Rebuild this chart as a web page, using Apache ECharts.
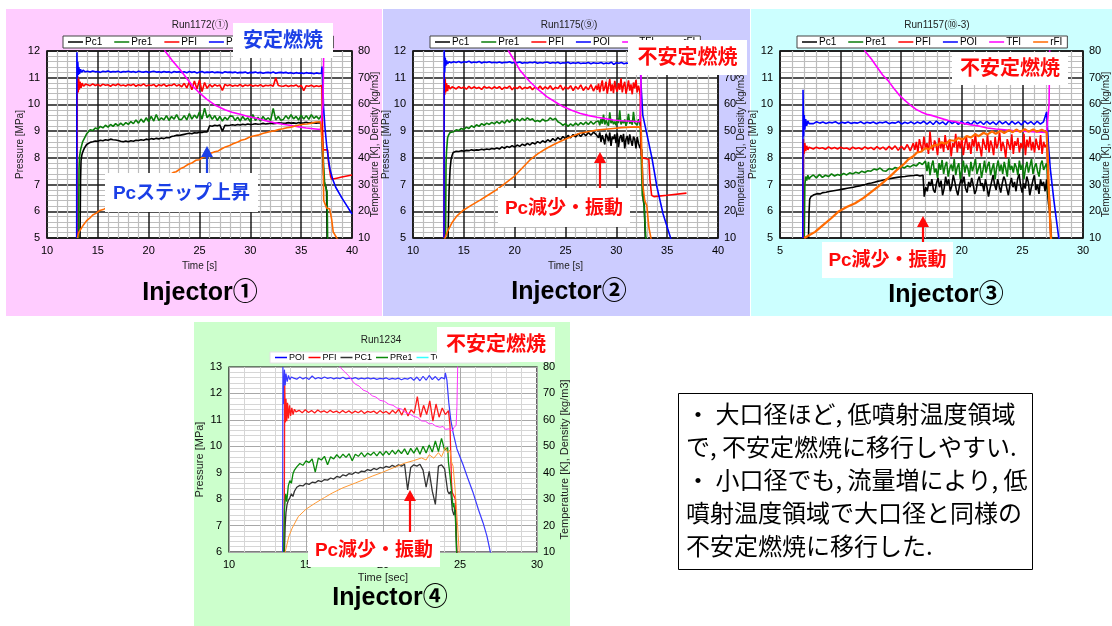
<!DOCTYPE html>
<html>
<head>
<meta charset="utf-8">
<script src="https://cdn.jsdelivr.net/npm/echarts@6/dist/echarts.min.js"></script>
<style>
html,body{margin:0;padding:0;background:#fff;}
#chart{width:1112px;height:626px;}
</style>
</head>
<body>
<div id="chart"></div>
<script>
// ---------- Run1172 (Injector 1) : time [s] vs pressure [MPa] / temperature, density ----------
const r1172_span = [14.0, 37.0];
const r1172_Pc1_head = [[13.25,5],[13.3,7.2],[13.35,7.9],[13.42,8.1],[13.5,8.2],[13.6,8.3],[13.7,8.38],[13.8,8.45],[13.9,8.5]];
const r1172_Pc1_body = [8.55,8.58,8.6,8.63,8.62,8.66,8.64,8.68,8.66,8.7,8.68,8.67,8.65,8.62,8.6,8.63,8.6,
  8.64,8.62,8.66,8.65,8.68,8.66,8.7,8.68,8.72,8.7,8.73,8.71,8.74,8.72,8.76,8.75,8.8,8.82,8.85,8.84,
  8.86,8.88,8.9,8.92,8.9,8.94,8.93,8.96,8.95,8.98,8.97,9.2,9.18,9.22,9.2,9.23,9.0,9.22,9.21,9.22,
  9.24,9.22,9.25,9.23,9.26,9.24,9.27,9.25,9.26,9.28,9.26,9.27,9.29,9.27,9.28,9.3,9.28,9.29,9.31,9.3,
  9.29,9.3,9.32,9.3,9.31,9.29,9.32,9.3,9.31,9.33,9.3,9.32,9.31,9.3,9.32,9.3];
const r1172_Pc1_tail = [[37.05,9.0],[37.1,8.2],[37.2,7.4],[37.3,7.0],[37.45,6.9],[37.5,6.7],[37.55,5],[37.56,4.9]];

const r1172_Pre1_head = [[13.1,5],[13.15,7.6],[13.2,8.05],[13.3,8.3],[13.4,8.45],[13.5,8.6],[13.6,8.55],[13.7,8.75],[13.8,8.7],[13.9,8.9]];
const r1172_Pre1_body = [8.95,9.05,9.02,9.12,9.08,9.18,9.12,9.22,9.15,9.25,9.18,9.28,9.2,9.3,9.22,9.32,9.25,
  9.36,9.28,9.42,9.3,9.45,9.33,9.5,9.36,9.55,9.38,9.62,9.4,9.5,9.42,9.58,9.4,9.55,9.45,9.62,9.43,
  9.44,9.58,9.42,9.66,9.45,9.6,9.48,9.72,9.45,9.86,9.5,9.62,9.44,9.58,9.4,9.55,9.38,9.52,9.42,9.57,
  9.56,9.4,9.52,9.38,9.55,9.42,9.5,9.36,9.62,9.4,9.52,9.38,9.55,9.42,9.5,9.4,9.85,9.42,9.55,9.41,
  9.44,9.58,9.45,9.62,9.46,9.55,9.42,9.6,9.45,9.58,9.44,9.62,9.48,9.56,9.45,9.6];
const r1172_Pre1_tail = [[37.05,9.3],[37.1,8.6],[37.2,7.8],[37.3,7.1],[37.45,6.85],[37.55,6.75],[37.6,5],[37.61,4.9]];

const r1172_PFI_head = [[12.95,5],[12.97,10.35],[13.02,11.05],[13.07,10.45],[13.12,10.95],[13.18,10.55],[13.25,10.85],[13.35,10.62],[13.45,10.8],[13.6,10.68],[13.8,10.76]];
const r1172_PFI_body = [10.74,10.7,10.77,10.71,10.75,10.69,10.76,10.72,10.74,10.68,10.75,10.71,10.77,10.7,10.73,10.69,10.75,
  10.71,10.76,10.68,10.74,10.7,10.77,10.69,10.73,10.71,10.75,10.67,10.74,10.7,10.76,10.68,10.73,10.71,10.77,10.69,10.74,
  10.66,10.79,10.62,10.84,10.55,10.88,10.58,10.92,10.48,10.82,10.6,10.75,10.66,10.74,10.69,10.73,10.52,10.75,10.7,10.74,
  10.68,10.72,10.69,10.75,10.67,10.73,10.7,10.74,10.68,10.72,10.69,10.74,10.67,10.72,10.7,10.73,10.68,11.0,10.71,10.69,
  10.68,10.72,10.67,10.71,10.69,10.73,10.66,10.71,10.52,10.7,10.68,10.72,10.66,10.7,10.67,10.71];
const r1172_PFI_tail = [[37.05,10.6],[37.1,9.2],[37.15,8.3],[37.6,8.3],[37.7,7.8],[37.9,7.3],[38.0,7.2],[38.5,7.24],[39,7.28],[39.5,7.32],[40,7.36]];

const r1172_POI_head = [[12.92,5],[12.94,11.95],[12.98,11.0],[13.03,11.6],[13.08,11.1],[13.13,11.4],[13.2,11.15],[13.3,11.32],[13.4,11.2],[13.55,11.28],[13.75,11.22]];
const r1172_POI_body = [11.24,11.21,11.25,11.22,11.23,11.2,11.24,11.22,11.25,11.21,11.23,11.22,11.24,11.2,11.23,11.22,11.24,
  11.21,11.23,11.2,11.24,11.22,11.21,11.23,11.2,11.22,11.24,11.21,11.22,11.2,11.23,11.21,11.22,11.19,11.23,11.21,11.22,
  11.2,11.22,11.19,11.23,11.2,11.22,11.18,11.21,11.23,11.19,11.21,11.2,11.22,11.19,11.21,11.2,11.18,11.22,11.2,11.21,
  11.19,11.21,11.18,11.2,11.19,11.21,11.17,11.2,11.19,11.21,11.18,11.2,11.17,11.19,11.2,11.18,11.21,11.17,11.19,11.2,
  11.18,11.2,11.17,11.19,11.16,11.19,11.17,11.18,11.16,11.19,11.17,11.18,11.15,11.18,11.16,11.17];
const r1172_POI_tail = [[37.05,11.42],[37.12,10.9],[37.2,9.9],[37.35,9.1],[37.5,8.5],[37.7,7.9],[37.85,7.55],[38.1,7.2],[38.4,6.9],[39.0,6.5],[39.5,6.2],[40,5.9]];

const r1172_TFI = [[21,88],[21.6,80],[22.3,76.5],[23.1,73],[23.7,70],[24.3,67],[25.0,64.3],[25.7,62],[26.5,59.8],[27.5,58],[28.2,57.1],[29,56.3],
  [29.8,55.5],[30.6,54.8],[31.5,53.9],[32.3,53.2],[33.2,52.6],[34,52.1],[34.8,51.6],[35.5,51.2],[36.2,50.9],[36.9,50.6],[37.05,50.5],[37.15,60],[37.2,75],[37.25,90]];
const r1172_rFI = [[13.0,10],[13.1,11.8],[13.3,13.2],[13.6,15],[13.9,16.5],[14.2,17.4],[14.5,18.6],[14.85,19.3],[15.2,20.3],[15.6,20.8],[16,21.6],[17,23.5],
  [18,25.8],[19,28],[20,30],[21,31.8],[22,33.4],[22.4,34.5],[22.7,34.8],[23.1,35.9],[23.5,36.6],[23.9,37.6],[24.3,38.2],[24.65,39.1],[25,39.3],[25.35,40.3],
  [25.7,40.6],[26.1,41.7],[26.5,42.3],[26.85,42.6],[27.2,43.4],[27.55,44.1],[27.9,44.5],[28.3,45.3],[28.7,45.8],[29.1,46.6],[29.5,47],[29.9,47.7],[30.3,48.2],
  [30.75,48.5],[31.2,49.1],[31.6,49.5],[32,49.9],[32.4,50.1],[32.8,50.6],[33.2,50.9],[33.6,51.3],[34,51.5],[34.4,51.9],[34.8,52.3],[35.2,52.6],[35.6,52.7],
  [36,53],[36.45,53.4],[36.9,53.5],[37.05,53.4],[37.15,42],[37.22,24],[37.5,21.2],[37.8,20.9],[38.0,17],[38.15,12.3],[38.5,10],[38.7,9]];

// ---------- Run1175 (Injector 2) ----------
const r1175_span = [14.0, 28.0];
const r1175_lateSpan = [28.125, 32.3];
const r1175_Pc1_head = [[13.45,5],[13.55,6.8],[13.65,7.6],[13.75,7.95],[13.85,8.1],[13.95,8.2]];
const r1175_Pc1_body = [8.22,8.25,8.24,8.27,8.25,8.28,8.27,8.3,8.28,8.3,8.29,8.32,8.3,8.33,8.31,8.35,8.33,
  8.37,8.33,8.41,8.36,8.43,8.39,8.46,8.4,8.48,8.43,8.51,8.46,8.54,8.48,8.57,8.52,8.61,8.55,8.64,8.58,
  8.68,8.61,8.72,8.64,8.76,8.68,8.8,8.71,8.84,8.75,8.87,8.78,8.9,8.8,8.92,8.83,8.95,8.85,8.96,8.88];
const r1175_Pc1_late = [8.9,8.75,8.95,8.6,8.85,8.7,8.5,8.9,8.8,8.62,8.95,8.45,8.8,8.7,8.88,8.55,8.92,8.4,8.75,8.85,
  8.6,8.9,8.35,8.7,8.82,8.5,8.88,8.65,8.45,8.8,8.7,8.35,8.78,8.55,8.4];
const r1175_Pc1_tail = [[32.35,8.35],[32.5,8.3],[32.65,6.4],[32.75,6.2],[32.85,5],[32.9,4.9]];

const r1175_Pre1_head = [[13.2,5],[13.25,7.8],[13.3,8.25],[13.4,8.75],[13.5,8.85],[13.65,8.95],[13.8,9.0]];
const r1175_Pre1_body = [8.98,9.05,9.02,9.1,9.06,9.15,9.1,9.2,9.14,9.24,9.18,9.28,9.22,9.3,9.25,9.33,9.27,
  9.36,9.28,9.38,9.3,9.42,9.33,9.44,9.36,9.46,9.38,9.48,9.4,9.5,9.42,9.46,9.36,9.4,9.35,9.45,9.38,
  9.4,9.5,9.42,9.48,9.35,9.3,9.22,9.28,9.18,9.27,9.2,9.3,9.22,9.32,9.24,9.34,9.25,9.36,9.26,9.35];
const r1175_Pre1_late = [9.3,9.38,9.22,9.45,9.28,9.62,9.25,9.4,9.33,9.2,9.7,9.3,9.42,9.26,9.36,9.22,9.48,9.3,9.78,9.25,
  9.38,9.3,9.44,9.2,9.35,9.65,9.28,9.4,9.24,9.72,9.32,9.38,9.22,9.45,9.3];
const r1175_Pre1_tail = [[32.35,9.2],[32.45,8.0],[32.55,6.6],[32.7,6.4],[32.9,5],[33,4.9]];

const r1175_PFI_head = [[13.05,5],[13.08,11.2],[13.12,10.35],[13.17,10.95],[13.22,10.45],[13.3,10.8],[13.4,10.5],[13.5,10.72],[13.65,10.58],[13.85,10.66]];
const r1175_PFI_body = [10.64,10.58,10.67,10.6,10.65,10.57,10.68,10.59,10.66,10.6,10.64,10.56,10.67,10.61,10.65,10.58,10.66,
  10.6,10.67,10.56,10.64,10.61,10.69,10.55,10.65,10.59,10.68,10.57,10.64,10.6,10.67,10.55,10.65,10.58,10.69,10.56,10.66,
  10.58,10.7,10.55,10.64,10.6,10.72,10.54,10.66,10.58,10.7,10.52,10.67,10.57,10.73,10.52,10.66,10.55,10.74,10.5,10.7];
const r1175_PFI_late = [10.55,10.78,10.45,10.7,10.9,10.5,10.62,10.85,10.4,10.68,10.95,10.5,10.75,10.42,10.88,10.6,10.48,10.8,10.55,10.98,
  10.45,10.7,10.85,10.4,10.62,10.9,10.52,10.75,10.38,10.82,10.6,10.92,10.45,10.7,10.5];
const r1175_PFI_tail = [[32.35,10.3],[32.45,8.1],[32.6,8.0],[33.2,7.95],[33.3,7.2],[33.47,6.6],[33.7,6.55],[35,6.6],[36.9,6.68]];

const r1175_POI_head = [[13.05,5],[13.07,12.05],[13.12,11.2],[13.17,11.75],[13.23,11.45],[13.3,11.65],[13.4,11.52],[13.55,11.6],[13.75,11.56]];
const r1175_POI_span = [14.0, 32.25];
const r1175_POI_body = [11.6,11.57,11.61,11.56,11.6,11.58,11.62,11.56,11.59,11.57,11.61,11.55,11.59,11.57,11.6,11.56,11.58,
  11.56,11.59,11.55,11.58,11.57,11.6,11.55,11.58,11.56,11.59,11.54,11.57,11.55,11.58,11.56,11.59,11.54,11.57,11.55,11.58,
  11.58,11.54,11.57,11.55,11.58,11.53,11.56,11.55,11.58,11.53,11.56,11.54,11.57,11.53,11.55,11.54,11.57,11.52,11.56,11.54,
  11.54,11.57,11.52,11.55,11.53,11.58,11.5,11.56,11.54,11.57,11.52,11.55,11.53,11.57,11.51,11.55,11.53];
const r1175_POI_tail = [[32.35,11.45],[32.45,10.6],[32.6,9.6],[33.0,8.9],[33.5,8.0],[34.0,6.9],[34.6,5.9],[35.3,5.05],[35.4,4.9]];

const r1175_TFI = [[18.8,90],[19.4,80],[20.0,76.2],[20.5,72.9],[21,70.6],[21.5,68.5],[22.3,65.6],[23.15,62.9],[24,60.9],[24.8,59.1],[25.6,57.8],
  [26.4,56.7],[27.2,55.9],[28.1,55.2],[28.9,54.7],[29.7,54.2],[30.5,53.9],[31.4,53.7],[32.3,53.5],[32.4,60],[32.45,80],[32.5,90]];
const r1175_rFI = [[13.1,9],[13.15,10],[13.4,12.5],[13.8,15.5],[14.3,18.2],[14.95,20.4],[15.8,22.4],[16.6,24.2],[17.4,26.1],[18.2,28],[19,30.3],
  [19.9,32.9],[20.7,36],[21.5,39.2],[22.3,41.6],[23.15,43.6],[24,45.3],[24.8,46.7],[25.6,48],[26.4,49.2],[27.2,49.8],[28.1,50.4],[28.9,50.7],
  [29.7,51],[30.5,51.3],[31.4,51.5],[32.3,51.6],[32.45,50],[32.6,30],[32.8,24],[33.0,22],[33.2,14],[33.4,10],[33.5,9]];

// ---------- Run1157 (Injector 3) ----------
const r1157_Pc1_span = [7.8, 16.8];
const r1157_Pc1_lateSpan = [16.9, 27.0];
const r1157_Pc1_head = [[7.35,5],[7.4,6.0],[7.45,6.45],[7.55,6.55],[7.7,6.6]];
const r1157_Pc1_body = [6.62,6.66,6.65,6.7,6.71,6.74,6.76,6.78,6.8,6.82,6.84,6.86,6.88,6.9,6.93,6.95,6.98,7.0,7.04,
  7.06,7.09,7.12,7.14,7.17,7.2,7.22,7.24,7.26,7.28,7.29,7.3,7.32,7.33,7.34,7.36,7.32,7.35];
const r1157_Pc1_late = [6.55,6.9,6.75,7.1,6.95,7.2,6.8,6.7,7.05,7.25,6.9,7.15,6.6,6.85,7.3,7.0,7.2,6.75,6.95,7.35,
  7.1,6.8,6.6,6.95,7.2,7.05,7.3,6.85,6.7,7.1,6.9,7.25,7.0,6.65,6.8,7.15,7.3,6.95,7.05,6.75,
  7.2,6.9,6.55,6.85,7.1,7.35,7.0,6.8,7.2,6.95,6.7,7.05,7.3,7.15,6.85,6.6,7.0,7.25,6.9,7.1,
  6.75,7.2,7.4,6.95,6.7,7.05,6.85,7.3,7.1,6.6,6.9,7.15,7.35,6.8,7.0,6.65,7.2,6.95,7.1,6.75,7.2];
const r1157_Pc1_tail = [[27.05,6.8],[27.15,6.3],[27.25,6.0],[27.35,5],[27.4,4.9]];

const r1157_Pre1_span = [7.5, 17.0];
const r1157_Pre1_lateSpan = [17.125, 27.0];
const r1157_Pre1_head = [[7.0,5],[7.05,6.98],[7.12,7.3],[7.2,7.15],[7.3,7.35],[7.4,7.2]];
const r1157_Pre1_body = [7.28,7.36,7.25,7.38,7.27,7.35,7.3,7.4,7.32,7.38,7.34,7.42,7.36,7.44,7.4,7.46,7.42,7.5,7.45,
  7.52,7.5,7.58,7.55,7.62,7.52,7.5,7.6,7.56,7.64,7.6,7.68,7.62,7.7,7.66,7.74,7.7,7.82,7.75,7.88];
const r1157_Pre1_late = [7.5,7.85,7.35,7.7,7.9,7.45,7.6,7.25,7.8,7.55,7.92,7.4,7.7,7.85,7.3,7.6,7.75,7.5,7.95,7.35,
  7.65,7.8,7.2,7.55,7.9,7.45,7.75,7.6,7.3,7.85,7.5,7.7,7.95,7.4,7.6,7.8,7.25,7.55,7.9,7.45,
  7.7,7.85,7.35,7.6,7.8,7.2,7.65,7.9,7.5,7.75,7.4,7.85,7.6,7.3,7.95,7.55,7.7,7.45,7.8,7.65,
  7.35,7.9,7.55,7.75,7.2,7.6,7.85,7.45,7.7,7.95,7.4,7.65,7.8,7.5,7.3,7.75,7.9,7.55,7.6,7.8];
const r1157_Pre1_tail = [[27.05,7.5],[27.15,6.6],[27.25,6.1],[27.4,5],[27.45,4.9]];

const r1157_PFI_span = [7.5, 16.0];
const r1157_PFI_lateSpan = [16.125, 27.0];
const r1157_PFI_head = [[6.9,5],[6.93,8.7],[6.98,8.15],[7.05,8.55],[7.12,8.25],[7.2,8.45],[7.3,8.3],[7.4,8.4]];
const r1157_PFI_body = [8.38,8.33,8.4,8.35,8.38,8.32,8.41,8.34,8.39,8.33,8.4,8.35,8.37,8.31,8.4,8.34,8.38,8.32,8.41,
  8.34,8.39,8.31,8.42,8.33,8.4,8.3,8.43,8.32,8.45,8.28,8.44,8.3,8.5,8.26,8.55];
const r1157_PFI_late = [8.3,8.6,8.2,8.7,8.45,8.25,8.8,8.35,8.55,8.15,8.98,8.4,8.28,8.65,8.5,8.1,8.75,8.35,8.6,8.22,
  8.85,8.45,8.3,8.7,8.05,8.55,8.4,8.9,8.2,8.62,8.35,8.75,8.1,8.5,8.8,8.3,8.58,8.15,8.7,8.42,
  8.92,8.25,8.6,8.38,8.05,8.72,8.5,8.3,8.85,8.2,8.65,8.45,8.1,8.78,8.35,8.55,8.95,8.25,8.6,8.4,
  8.0,8.7,8.5,8.3,8.88,8.15,8.62,8.45,8.75,8.2,8.55,8.35,8.9,8.1,8.68,8.4,8.8,8.28,8.6,8.2,
  8.72,8.45,8.3,8.85,8.15,8.6,8.4,8.5];
const r1157_PFI_tail = [[27.05,8.2],[27.15,7.0],[27.25,6.4],[27.35,5],[27.4,4.9]];

const r1157_POI_span = [7.5, 27.0];
const r1157_POI_head = [[6.88,5],[6.9,10.55],[6.95,8.8],[7.0,9.6],[7.05,9.05],[7.12,9.45],[7.2,9.2],[7.3,9.38],[7.4,9.28]];
const r1157_POI_body = [9.32,9.28,9.35,9.3,9.34,9.29,9.33,9.31,9.35,9.28,9.33,9.3,9.34,9.29,9.32,9.3,9.35,9.28,9.33,
  9.3,9.34,9.28,9.33,9.31,9.35,9.28,9.32,9.3,9.36,9.27,9.33,9.29,9.35,9.27,9.34,9.29,9.37,9.26,
  9.36,9.25,9.38,9.27,9.35,9.24,9.39,9.28,9.36,9.25,9.37,9.26,9.34,9.24,9.38,9.27,9.36,9.25,9.37,
  9.26,9.35,9.24,9.38,9.27,9.36,9.24,9.37,9.26,9.35,9.23,9.38,9.27,9.36,9.25,9.37,9.26,9.35,9.72];
const r1157_POI_tail = [[27.05,9.3],[27.15,8.5],[27.3,7.6],[27.45,7.0],[27.6,6.4],[27.8,5.7],[28.0,5],[28.05,4.9]];

const r1157_TFI = [[11.5,88],[12.0,80],[12.54,77],[13.0,74],[13.47,71],[13.9,69],[14.4,66],[14.84,63.5],[15.3,61.5],[15.8,59.6],[16.2,58.2],
  [16.64,57.2],[17.1,56.3],[17.5,55.9],[18.0,55.2],[18.5,54.5],[18.9,54],[19.4,53.6],[20,53],[20.7,52.4],[21.4,51.9],[22.1,51.2],[22.8,50.8],
  [23.5,50.5],[24.2,50.2],[24.8,50.0],[25.5,49.9],[26.2,49.7],[27,49.5],[27.1,49.4],[27.2,60],[27.25,80],[27.3,90]];
const r1157_rFI = [[7.0,10],[7.4,11],[7.9,12.3],[8.5,14.6],[9.2,17.3],[9.8,19.8],[10.5,21.6],[11.2,23],[11.9,25],[12.54,27.3],[13.2,29.6],
  [13.9,32.3],[14.6,35.3],[15.27,37.9],[15.6,39.5],[16,40.6],[16.3,42],[16.64,42.3],[17,43.6],[17.3,43.2],[17.6,44.5],[18,44.8],[18.3,45.8],
  [18.7,45.3],[19,46.6],[19.4,46.4],[19.7,47.4],[20.1,46.9],[20.4,48.2],[20.74,47.6],[21.1,48.8],[21.4,48.1],[21.8,49.4],[22.1,48.7],[22.5,49.9],
  [22.8,49],[23.2,50.1],[23.5,49.3],[23.9,50.4],[24.2,49.6],[24.5,50.6],[24.8,49.7],[25.2,50.7],[25.5,49.8],[25.9,50.6],[26.2,49.8],[26.6,50.5],
  [27,49.6],[27.1,40],[27.2,25],[27.35,10],[27.4,9]];

// ---------- Run1234 (Injector 4) ----------
const r1234_POI_head = [[13.48,6],[13.5,13.0],[13.55,11.6],[13.6,12.9],[13.65,12.3],[13.7,12.75],[13.78,12.45],[13.86,12.68],[13.95,12.52],[14.05,12.62]];
const r1234_POI_span = [14.2, 24.0];
const r1234_POI_body = [12.58,12.54,12.62,12.55,12.6,12.53,12.66,12.55,12.6,12.56,12.62,12.57,12.6,12.55,12.59,12.56,12.61,12.55,12.58,12.56,12.6,12.54,12.58,12.55,12.59,
  12.55,12.58,12.53,12.57,12.55,12.59,12.53,12.57,12.54,12.58,12.52,12.57,12.54,12.6,12.5,12.62,12.48,12.65,12.5,12.68,12.52,12.64,12.5,12.6,12.55];
const r1234_POI_tail = [[24.05,12.78],[24.15,12.5],[24.27,11.66],[24.4,11.0],[24.56,10.5],[24.8,9.9],[25.2,9.3],[25.5,8.8],[25.86,8.23],[26.2,7.6],[26.5,7.1],[26.75,6.6],[26.97,6.0],[27.05,5.9]];

const r1234_PFI_head = [[13.58,6],[13.62,12.3],[13.66,10.9],[13.7,11.8],[13.75,10.95],[13.8,11.65],[13.86,11.05],[13.93,11.55],[14.0,11.15],[14.08,11.45],[14.16,11.2],[14.25,11.4]];
const r1234_PFI_span = [14.35, 24.25];
const r1234_PFI_body = [11.3,11.36,11.27,11.38,11.28,11.35,11.26,11.37,11.29,11.34,11.27,11.36,11.28,11.33,11.26,11.35,11.27,11.34,11.25,11.33,11.27,11.35,11.24,11.32,11.28,
  11.33,11.24,11.35,11.26,11.32,11.22,11.36,11.25,11.4,11.18,11.45,11.15,11.38,11.25,11.88,11.1,11.55,11.2,11.72,10.95,11.6,11.1,11.45,11.2,11.35];
const r1234_PFI_tail = [[24.35,10.8],[24.45,8.6],[24.5,8.25],[24.56,8.3],[24.7,8.0],[24.8,6.0],[24.85,5.9]];

const r1234_PC1_head = [[13.6,6],[13.65,7.0],[13.7,7.5],[13.77,7.8],[13.85,7.95],[13.95,8.05],[14.05,8.2],[14.15,8.1],[14.25,8.3]];
const r1234_PC1_span = [14.4, 24.2];
const r1234_PC1_body = [8.45,8.52,8.5,8.6,8.56,8.64,8.62,8.7,8.66,8.74,8.72,8.8,8.76,8.86,8.82,8.92,8.88,8.97,8.94,9.02,8.98,9.06,9.04,9.12,9.08,
  9.16,9.12,9.2,9.17,9.24,9.2,9.28,9.22,9.3,9.25,9.32,8.35,9.2,9.3,9.25,9.32,9.1,8.45,9.05,8.3,7.8,9.25,9.3,9.15,8.3];
const r1234_PC1_tail = [[24.3,8.2],[24.4,8.3],[24.5,7.6],[24.6,7.4],[24.7,7.6],[24.78,6],[24.8,5.9]];

const r1234_PRe1_head = [[13.55,6],[13.6,7.6],[13.68,8.2],[13.75,7.9],[13.85,8.5],[13.95,8.7],[14.05,8.6],[14.15,8.95],[14.25,9.1]];
const r1234_PRe1_span = [14.4, 24.2];
const r1234_PRe1_body = [9.22,9.35,9.28,9.45,9.38,9.52,9.02,9.55,9.48,9.62,9.3,9.6,9.52,9.68,9.55,9.7,9.58,9.72,9.45,9.7,9.62,9.76,9.6,9.74,9.66,
  9.78,9.64,9.8,9.66,9.82,9.68,9.85,9.7,9.86,9.72,9.9,9.68,9.92,9.74,9.95,9.7,10.0,9.75,10.05,9.78,10.2,9.8,10.3,9.85,9.95];
const r1234_PRe1_tail = [[24.25,9.4],[24.35,8.9],[24.45,8.3],[24.55,7.7],[24.6,7.85],[24.7,7.3],[24.78,6.0],[24.8,5.9]];

const r1234_TOI = [];
const r1234_TFI = [[17.0,85],[17.2,80],[17.5,78.2],[17.77,76.7],[18.0,74.8],[18.2,73.5],[18.45,72.8],[18.7,71.3],[19.0,70.6],[19.3,69.1],[19.55,68.6],
  [19.8,67.4],[20.1,67.0],[20.37,65.9],[20.65,65.5],[20.9,64.5],[21.2,64.1],[21.45,62.8],[21.7,62.4],[22.0,61.3],[22.25,60.9],[22.5,59.6],[22.75,59.5],
  [23.0,58.5],[23.2,58.6],[23.4,57.7],[23.7,57.2],[23.9,57.5],[24.05,56.4],[24.3,56.6],[24.5,55.8],[24.6,57],[24.75,58],[24.8,65],[24.85,80],[24.9,88]];
const r1234_rFI = [[13.6,9],[13.65,10],[13.88,15.8],[14.1,19],[14.5,23.4],[15,26.2],[15.6,28.5],[16.2,30.6],[16.7,32.3],[17.4,34.3],[18.2,36.1],
  [18.8,37.5],[19.3,38.7],[19.9,40],[20.4,41.2],[20.9,42.4],[21.45,43.7],[22,44.6],[22.5,45.6],[22.8,44.8],[23.0,46.8],[23.3,45.5],[23.6,47.6],
  [23.8,46],[24.05,49.5],[24.2,47.5],[24.35,48.6],[24.45,44],[24.55,42.5],[24.65,36],[24.8,24],[24.95,10],[25,9]];

// axis ranges and text
const pressureTicks = { r1172: [5, 12], r1175: [5, 12], r1157: [5, 12], r1234: [6, 13] };
const timeTicks = { r1172: [10, 40], r1175: [10, 40], r1157: [5, 30], r1234: [10, 30] };
const rightTicks = [10, 80];
const runTitles = ['Run1172(①)', 'Run1175(⑨)', 'Run1157(⑩-3)', 'Run1234'];
const injectorNames = ['Injector①', 'Injector②', 'Injector③', 'Injector④'];
const legendNames123 = ['Pc1', 'Pre1', 'PFI', 'POI', 'TFI', 'rFI'];
const legendNames4 = ['POI', 'PFI', 'PC1', 'PRe1', 'TOI', 'TFI', 'rFI'];
const summaryLines = ['・ 大口径ほど, 低噴射温度領域', 'で, 不安定燃焼に移行しやすい.', '・ 小口径でも, 流量増により, 低', '噴射温度領域で大口径と同様の', '不安定燃焼に移行した.'];

// ---------- helpers ----------
const LATIN = "'Liberation Sans', Arial, sans-serif";
const JP = "'Liberation Sans', 'Noto Sans CJK JP', sans-serif";
const BLUE_NOTE = '#1b3fe6';
const RED_NOTE = '#ff0a0a';

// body samples are evenly spaced in time between span[0] and span[1]
function sampled(span, vals) {
  const n = vals.length;
  return vals.map((v, i) => [+(span[0] + (span[1] - span[0]) * i / (n - 1)).toFixed(3), v]);
}
// head points + one or more evenly sampled stretches + tail points
function trace(head, parts, tail) {
  let out = head.slice();
  parts.forEach(p => { out = out.concat(sampled(p[0], p[1])); });
  return out.concat(tail);
}

const grids = [
  { left: 47, top: 51, width: 305, height: 187 },
  { left: 413, top: 51, width: 305, height: 187 },
  { left: 780, top: 51, width: 305, height: 187 },
  { left: 229, top: 367, width: 308, height: 185 }
];
grids.forEach((g, i) => {
  g.show = true; g.backgroundColor = '#fff';
  g.borderColor = '#000'; g.borderWidth = i < 3 ? 1.5 : 1.2;
});

function xAxisFor(gi, range, name, heavy) {
  return {
    type: 'value', gridIndex: gi, min: range[0], max: range[1], interval: 5,
    name: name, nameLocation: 'middle', nameGap: heavy ? 23 : 20, nameMoveOverlap: false,
    nameTextStyle: { fontSize: heavy ? 10 : 11, color: '#222', fontFamily: LATIN },
    axisLine: { show: false }, axisTick: { show: false },
    axisLabel: { fontSize: 11, color: '#000', margin: 7, fontFamily: LATIN },
    splitLine: { show: true, lineStyle: { color: heavy ? '#1a1a1a' : '#a8a8a8', width: heavy ? 1.5 : 1 } },
    minorTick: { show: false, splitNumber: 5 },
    minorSplitLine: { show: true, lineStyle: { color: heavy ? '#bdbdbd' : '#d6d6d6', width: heavy ? 1.2 : 1 } }
  };
}
function yLeftFor(gi, range, heavy) {
  return {
    type: 'value', gridIndex: gi, position: 'left', min: range[0], max: range[1], interval: 1,
    name: 'Pressure [MPa]', nameLocation: 'middle', nameGap: heavy ? 22 : 24, nameRotate: 90, nameMoveOverlap: false,
    nameTextStyle: { fontSize: heavy ? 10 : 11, color: '#222', fontFamily: LATIN },
    axisLine: { show: false }, axisTick: { show: false },
    axisLabel: { fontSize: 11, color: '#000', margin: 7, fontFamily: LATIN },
    splitLine: { show: true, lineStyle: { color: heavy ? '#1a1a1a' : '#a8a8a8', width: heavy ? 1.5 : 1 } },
    minorTick: { show: false, splitNumber: 5 },
    minorSplitLine: { show: true, lineStyle: { color: heavy ? '#bdbdbd' : '#d6d6d6', width: heavy ? 1.2 : 1 } }
  };
}
function yRightFor(gi, heavy) {
  return {
    type: 'value', gridIndex: gi, position: 'right', min: rightTicks[0], max: rightTicks[1], interval: 10,
    name: 'Temperature [K], Density [kg/m3]', nameLocation: 'middle', nameGap: heavy ? 18 : 22, nameRotate: 90, nameMoveOverlap: false,
    nameTextStyle: { fontSize: heavy ? 10 : 11, color: '#222', fontFamily: LATIN },
    axisLine: { show: false }, axisTick: { show: false },
    axisLabel: { fontSize: 11, color: '#000', margin: 6, fontFamily: LATIN },
    splitLine: { show: false }
  };
}

function line(name, data, gi, right, color, width) {
  return {
    type: 'line', name: name, data: data, xAxisIndex: gi, yAxisIndex: gi * 2 + (right ? 1 : 0),
    symbol: 'none', showSymbol: false, animation: false, silent: true,
    lineStyle: { color: color, width: width }, itemStyle: { color: color },
    emphasis: { disabled: true }
  };
}

function legendFor(left, top, names, fs, border, iconW, gap) {
  return {
    left: left, top: top, data: names, orient: 'horizontal', selectedMode: false,
    icon: 'rect', itemWidth: iconW, itemHeight: 1.5, itemGap: gap, padding: [1, 5],
    backgroundColor: '#fff', borderColor: border, borderWidth: 1, borderRadius: 0,
    textStyle: { fontSize: fs, color: '#000', fontFamily: LATIN, padding: [0, 0, 0, -3] }
  };
}

const series = [
  // Injector 1
  line('Pc1', trace(r1172_Pc1_head, [[r1172_span, r1172_Pc1_body]], r1172_Pc1_tail), 0, false, '#000000', 1.6),
  line('Pre1', trace(r1172_Pre1_head, [[r1172_span, r1172_Pre1_body]], r1172_Pre1_tail), 0, false, '#0a7d0a', 1.6),
  line('PFI', trace(r1172_PFI_head, [[r1172_span, r1172_PFI_body]], r1172_PFI_tail), 0, false, '#ff0000', 1.6),
  line('POI', trace(r1172_POI_head, [[r1172_span, r1172_POI_body]], r1172_POI_tail), 0, false, '#0000ff', 1.6),
  line('TFI', r1172_TFI, 0, true, '#ff00ff', 1.6),
  line('rFI', r1172_rFI, 0, true, '#ff6a00', 1.6),
  // Injector 2
  line('Pc1', trace(r1175_Pc1_head, [[r1175_span, r1175_Pc1_body], [r1175_lateSpan, r1175_Pc1_late]], r1175_Pc1_tail), 1, false, '#000000', 1.6),
  line('Pre1', trace(r1175_Pre1_head, [[r1175_span, r1175_Pre1_body], [r1175_lateSpan, r1175_Pre1_late]], r1175_Pre1_tail), 1, false, '#0a7d0a', 1.6),
  line('PFI', trace(r1175_PFI_head, [[r1175_span, r1175_PFI_body], [r1175_lateSpan, r1175_PFI_late]], r1175_PFI_tail), 1, false, '#ff0000', 1.6),
  line('POI', trace(r1175_POI_head, [[r1175_POI_span, r1175_POI_body]], r1175_POI_tail), 1, false, '#0000ff', 1.6),
  line('TFI', r1175_TFI, 1, true, '#ff00ff', 1.6),
  line('rFI', r1175_rFI, 1, true, '#ff6a00', 1.6),
  // Injector 3
  line('Pc1', trace(r1157_Pc1_head, [[r1157_Pc1_span, r1157_Pc1_body], [r1157_Pc1_lateSpan, r1157_Pc1_late]], r1157_Pc1_tail), 2, false, '#000000', 1.6),
  line('Pre1', trace(r1157_Pre1_head, [[r1157_Pre1_span, r1157_Pre1_body], [r1157_Pre1_lateSpan, r1157_Pre1_late]], r1157_Pre1_tail), 2, false, '#0a7d0a', 1.6),
  line('PFI', trace(r1157_PFI_head, [[r1157_PFI_span, r1157_PFI_body], [r1157_PFI_lateSpan, r1157_PFI_late]], r1157_PFI_tail), 2, false, '#ff0000', 1.6),
  line('POI', trace(r1157_POI_head, [[r1157_POI_span, r1157_POI_body]], r1157_POI_tail), 2, false, '#0000ff', 1.6),
  line('TFI', r1157_TFI, 2, true, '#ff00ff', 1.6),
  line('rFI', r1157_rFI, 2, true, '#ff6a00', 2.2),
  // Injector 4
  line('POI', trace(r1234_POI_head, [[r1234_POI_span, r1234_POI_body]], r1234_POI_tail), 3, false, '#3a3aff', 1.2),
  line('PFI', trace(r1234_PFI_head, [[r1234_PFI_span, r1234_PFI_body]], r1234_PFI_tail), 3, false, '#ff1a1a', 1.3),
  line('PC1', trace(r1234_PC1_head, [[r1234_PC1_span, r1234_PC1_body]], r1234_PC1_tail), 3, false, '#333333', 1.3),
  line('PRe1', trace(r1234_PRe1_head, [[r1234_PRe1_span, r1234_PRe1_body]], r1234_PRe1_tail), 3, false, '#0a8a0a', 1.3),
  line('TOI', r1234_TOI, 3, true, '#33ffff', 1),
  line('TFI', r1234_TFI, 3, true, '#ff33ff', 1),
  line('rFI', r1234_rFI, 3, true, '#ff9933', 1)
];

// ---------- decorations: panel backgrounds, titles, notes, arrows ----------
const graphics = [];
[[6, 9, 376, 307, '#ffccff'], [383, 9, 367, 307, '#ccccff'], [751, 9, 361, 307, '#ccffff'], [194, 322, 376, 304, '#ccffcc']]
  .forEach(b => graphics.push({ type: 'rect', z: -100, silent: true, shape: { x: b[0], y: b[1], width: b[2], height: b[3] }, style: { fill: b[4] } }));

[[200, 25], [569, 25], [937, 25], [381, 340]].forEach((p, i) => graphics.push({
  type: 'text', z: 50, silent: true,
  style: { text: runTitles[i], x: p[0], y: p[1], align: 'center', verticalAlign: 'middle', fill: '#222', fontSize: 10, fontFamily: JP }
}));

[[200, 293], [569, 292], [946, 295], [390, 598]].forEach((p, i) => graphics.push({
  type: 'text', z: 50, silent: true,
  style: { text: injectorNames[i], x: p[0], y: p[1], align: 'center', verticalAlign: 'middle', fill: '#000', fontSize: 25, fontWeight: 'bold', fontFamily: JP }
}));

function note(x, y, w, h, text, color, fs) {
  graphics.push({ type: 'rect', z: 100, silent: true, shape: { x: x, y: y, width: w, height: h }, style: { fill: '#fff' } });
  graphics.push({ type: 'text', z: 101, silent: true,
    style: { text: text, x: x + w / 2, y: y + h / 2 + 1, align: 'center', verticalAlign: 'middle', fill: color, fontSize: fs, fontWeight: 'bold', fontFamily: JP } });
}
note(233, 23, 100, 35, '安定燃焼', BLUE_NOTE, 20);
note(105, 173, 153, 39, 'Pcステップ上昇', BLUE_NOTE, 19);
note(628, 40, 119, 35, '不安定燃焼', RED_NOTE, 20);
note(498, 188, 132, 39, 'Pc減少・振動', RED_NOTE, 19);
note(952, 52, 116, 33, '不安定燃焼', RED_NOTE, 20);
note(822, 242, 131, 36, 'Pc減少・振動', RED_NOTE, 19);
note(437, 327, 118, 35, '不安定燃焼', RED_NOTE, 20);
note(308, 532, 132, 35, 'Pc減少・振動', RED_NOTE, 19);

function arrow(x, yTail, yTip, color) {
  graphics.push({ type: 'line', z: 102, silent: true, shape: { x1: x, y1: yTail, x2: x, y2: yTip + 8 }, style: { stroke: color, lineWidth: 2.2 } });
  graphics.push({ type: 'polygon', z: 102, silent: true, shape: { points: [[x - 6, yTip + 11], [x + 6, yTip + 11], [x, yTip]] }, style: { fill: color } });
}
arrow(207, 173, 146, BLUE_NOTE);
arrow(600, 188, 152, RED_NOTE);
arrow(923, 242, 216, RED_NOTE);
arrow(410, 532, 490, RED_NOTE);

graphics.push({ type: 'rect', z: 50, silent: true, shape: { x: 678.5, y: 393.5, width: 354, height: 176 }, style: { fill: '#fff', stroke: '#000', lineWidth: 1 } });
summaryLines.forEach((s, i) => graphics.push({
  type: 'text', z: 51, silent: true,
  style: { text: s, x: 686, y: 414 + i * 33, align: 'left', verticalAlign: 'middle', fill: '#000', fontSize: 24, fontFamily: "'Noto Sans CJK JP', sans-serif" }
}));

const option = {
  backgroundColor: '#fff',
  animation: false,
  grid: grids,
  xAxis: [
    xAxisFor(0, timeTicks.r1172, 'Time [s]', true),
    xAxisFor(1, timeTicks.r1175, 'Time [s]', true),
    xAxisFor(2, timeTicks.r1157, 'Time [s]', true),
    xAxisFor(3, timeTicks.r1234, 'Time [sec]', false)
  ],
  yAxis: [
    yLeftFor(0, pressureTicks.r1172, true), yRightFor(0, true),
    yLeftFor(1, pressureTicks.r1175, true), yRightFor(1, true),
    yLeftFor(2, pressureTicks.r1157, true), yRightFor(2, true),
    yLeftFor(3, pressureTicks.r1234, false), yRightFor(3, false)
  ],
  legend: [
    legendFor(63, 36, legendNames123, 10, '#444', 15, 12),
    legendFor(430, 36, legendNames123, 10, '#444', 15, 12),
    legendFor(797, 36, legendNames123, 10, '#444', 15, 12),
    legendFor(270, 352, legendNames4, 9, '#e2e2e2', 12, 4)
  ],
  series: series,
  graphic: { elements: graphics }
};

const chart = echarts.init(document.getElementById('chart'), null, { renderer: 'canvas' });
chart.setOption(option);
</script>
</body>
</html>
